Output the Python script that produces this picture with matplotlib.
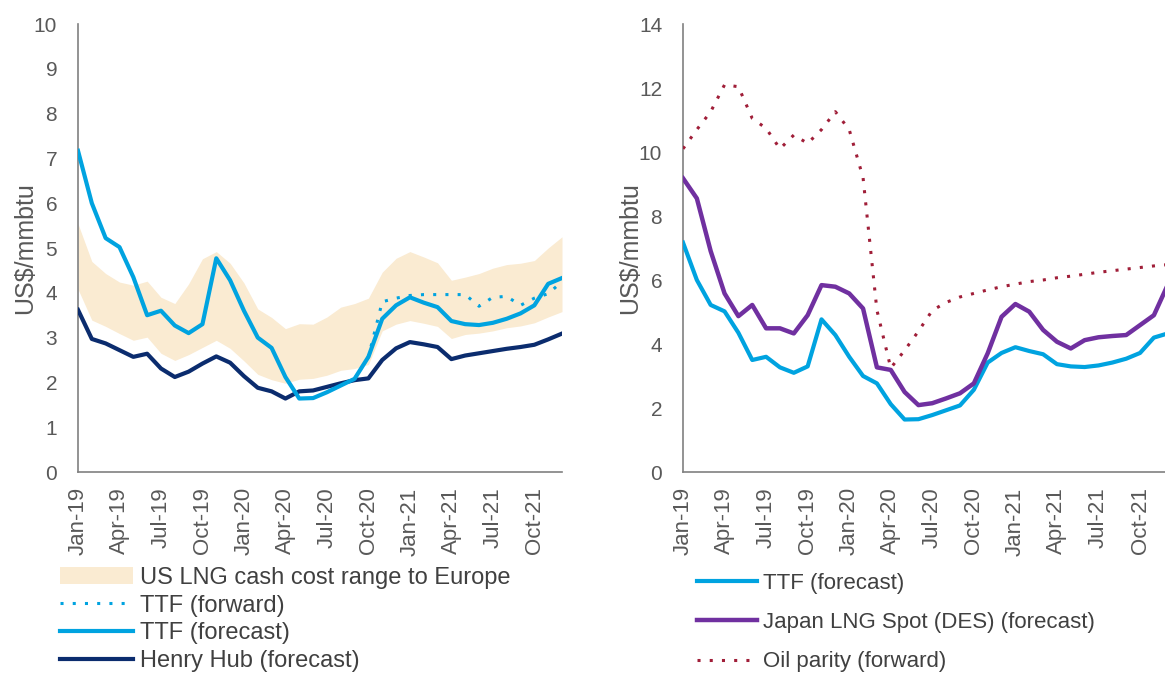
import numpy as np
import matplotlib
matplotlib.use("Agg")
from matplotlib import pyplot as plt
from matplotlib.patches import Patch
from matplotlib.lines import Line2D

plt.rcParams['font.family'] = ['Liberation Sans', 'DejaVu Sans']

# monthly data, Jan-19 .. Dec-21
tick_labels = ['Jan-19', 'Apr-19', 'Jul-19', 'Oct-19', 'Jan-20', 'Apr-20',
               'Jul-20', 'Oct-20', 'Jan-21', 'Apr-21', 'Jul-21', 'Oct-21']

ttf_forecast = [7.17, 6.0, 5.22, 5.02, 4.35, 3.5, 3.6, 3.27, 3.1, 3.3, 4.77, 4.28,
                3.6, 3.0, 2.77, 2.12, 1.64, 1.65, 1.78, 1.93, 2.08, 2.57, 3.42, 3.72,
                3.9, 3.78, 3.68, 3.37, 3.3, 3.28, 3.33, 3.42, 3.54, 3.72, 4.2, 4.33]
ttf_forward = [None] * 20 + [2.08, 2.57, 3.8, 3.88, 3.94, 3.96, 3.96, 3.96, 3.96, 3.7,
                             3.9, 3.92, 3.72, 3.88, 3.98, 4.25]
henry_hub = [3.62, 2.97, 2.87, 2.72, 2.57, 2.64, 2.31, 2.12, 2.24, 2.42, 2.58, 2.44,
             2.14, 1.88, 1.8, 1.64, 1.8, 1.82, 1.9, 1.98, 2.05, 2.09, 2.5, 2.76,
             2.9, 2.85, 2.79, 2.52, 2.6, 2.65, 2.7, 2.75, 2.79, 2.84, 2.96, 3.09]
lng_cost_high = [5.54, 4.7, 4.43, 4.24, 4.17, 4.26, 3.9, 3.76, 4.2, 4.76, 4.92, 4.66,
                 4.22, 3.64, 3.45, 3.2, 3.31, 3.3, 3.46, 3.68, 3.76, 3.88, 4.46, 4.77,
                 4.92, 4.8, 4.67, 4.28, 4.35, 4.43, 4.55, 4.63, 4.66, 4.72, 5.0, 5.25]
lng_cost_low = [4.08, 3.39, 3.25, 3.09, 2.94, 3.01, 2.65, 2.49, 2.62, 2.78, 2.94, 2.76,
                2.48, 2.18, 2.06, 1.98, 2.07, 2.09, 2.16, 2.27, 2.31, 2.4, 3.15, 3.3,
                3.38, 3.32, 3.25, 2.98, 3.07, 3.1, 3.15, 3.22, 3.26, 3.33, 3.46, 3.58]
japan_spot = [9.18, 8.55, 6.9, 5.58, 4.87, 5.22, 4.49, 4.49, 4.33, 4.9, 5.84, 5.79,
              5.58, 5.11, 3.27, 3.19, 2.5, 2.09, 2.15, 2.3, 2.46, 2.77, 3.71, 4.85,
              5.25, 5.01, 4.44, 4.07, 3.86, 4.12, 4.21, 4.25, 4.28, 4.59, 4.9, 5.85]
oil_parity = [10.1, 10.7, 11.26, 12.1, 12.04, 11.05, 10.74, 10.1, 10.53, 10.27, 10.7, 11.26,
              10.7, 9.2, 5.06, 3.25, 3.8, 4.4, 5.05, 5.3, 5.47, 5.58, 5.69, 5.79,
              5.87, 5.95, 6.0, 6.07, 6.12, 6.18, 6.24, 6.29, 6.34, 6.39, 6.44, 6.48]

x = np.arange(len(ttf_forecast))
fwd = np.array([np.nan if v is None else v for v in ttf_forward])

c_ttf = '#00A3E0'
c_hh = '#0B2C6E'
c_band = '#FAEBD2'
c_jp = '#7030A0'
c_oil = '#A01E38'
c_txt = '#595959'
dots = (0, (1, 3))

fig = plt.figure(figsize=(11.65, 6.75), dpi=100)
W, H = 1165, 675
ax1 = fig.add_axes([78 / W, 203 / H, 484 / W, 448 / H])
ax2 = fig.add_axes([683 / W, 203 / H, 484.75 / W, 448 / H])

# left panel
ax1.fill_between(x, lng_cost_low, lng_cost_high, color=c_band, lw=0, zorder=1)
ax1.plot(x, henry_hub, color=c_hh, lw=3, solid_joinstyle='round', zorder=3)
ax1.plot(x, ttf_forecast, color=c_ttf, lw=3, solid_joinstyle='round', zorder=4)
ax1.plot(x, fwd, color=c_ttf, lw=2.2, linestyle=dots, zorder=5)
ax1.set_ylim(0, 10)
ax1.set_yticks(range(0, 11))

# right panel
ax2.plot(x, oil_parity, color=c_oil, lw=2.2, linestyle=dots, zorder=3)
ax2.plot(x, ttf_forecast, color=c_ttf, lw=3, solid_joinstyle='round', zorder=4)
ax2.plot(x, japan_spot, color=c_jp, lw=3.2, solid_joinstyle='round', zorder=5)
ax2.set_ylim(0, 14)
ax2.set_yticks(range(0, 15, 2))

for ax in (ax1, ax2):
    ax.set_xlim(0, 35)
    ax.set_xticks(range(0, 36, 3))
    ax.set_xticklabels(tick_labels, rotation=90)
    for s in ('top', 'right'):
        ax.spines[s].set_visible(False)
    for s in ('left', 'bottom'):
        ax.spines[s].set_color('#808080')
        ax.spines[s].set_linewidth(1.2)
    ax.tick_params(axis='y', length=0, pad=15, labelsize=15, labelcolor=c_txt)
    ax.tick_params(axis='x', length=0, pad=11, labelsize=16, labelcolor=c_txt)
    ax.set_ylabel('US$/mmbtu', fontsize=18, color=c_txt)
    ax.yaxis.set_label_coords(-0.085, 0.5)

# legends
h1 = [Patch(facecolor=c_band, edgecolor='none'),
      Line2D([], [], color=c_ttf, lw=2.2, linestyle=dots),
      Line2D([], [], color=c_ttf, lw=3),
      Line2D([], [], color=c_hh, lw=3)]
l1 = ['US LNG cash cost range to Europe', 'TTF (forward)', 'TTF (forecast)',
      'Henry Hub (forecast)']
fig.legend(h1, l1, loc='upper left', bbox_to_anchor=(60 / W, 1 - 567 / H),
           frameon=False, fontsize=17, handlelength=3.1, handletextpad=0.3,
           labelspacing=0.24, borderpad=0, borderaxespad=0, labelcolor='#404040')

h2 = [Line2D([], [], color=c_ttf, lw=3),
      Line2D([], [], color=c_jp, lw=3.2),
      Line2D([], [], color=c_oil, lw=2.2, linestyle=dots)]
l2 = ['TTF (forecast)', 'Japan LNG Spot (DES) (forecast)', 'Oil parity (forward)']
fig.legend(h2, l2, loc='upper left', bbox_to_anchor=(697 / W, 1 - 573 / H),
           frameon=False, fontsize=16, handlelength=2.7, handletextpad=0.25,
           labelspacing=0.82, borderpad=0, borderaxespad=0, labelcolor='#404040')

fig.savefig('out.png', dpi=100)
